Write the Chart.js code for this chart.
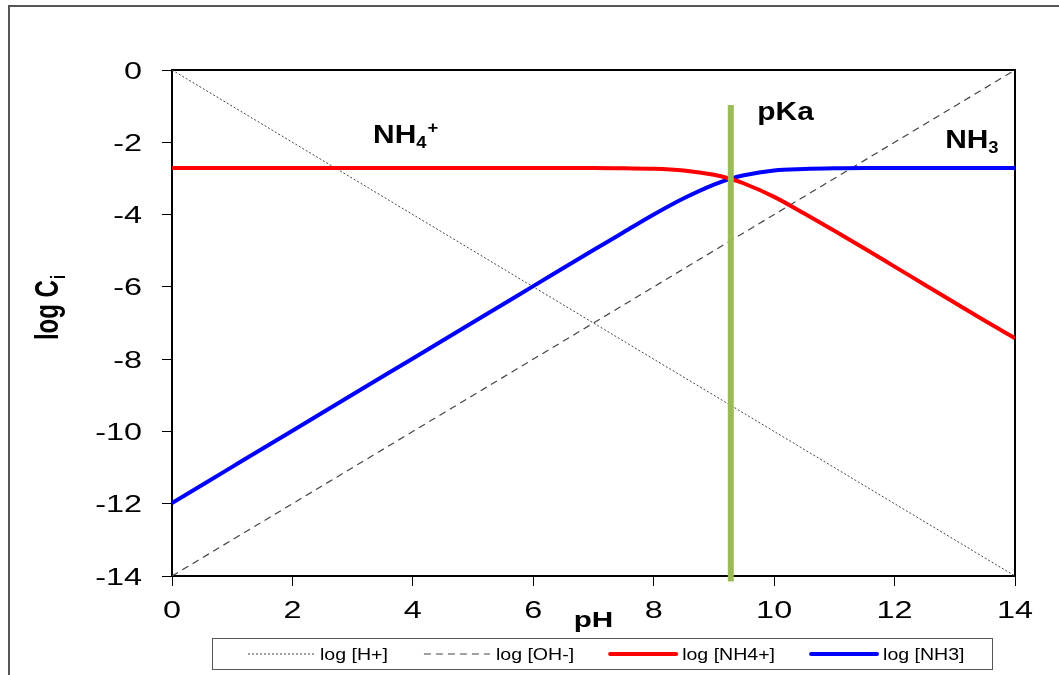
<!DOCTYPE html>
<html>
	<head>
		<title>Ammonia log C - pH diagram</title>
		<script src="https://cdnjs.cloudflare.com/ajax/libs/Chart.js/4.4.1/chart.umd.min.js"></script>
		<style>
			html, body {
				margin: 0;
				padding: 0;
				background: #fff;
			}
			.chart-container {
				width: 1059px;
				height: 675px;
			}
		</style>
	</head>
	<body>
		<div class="chart-container">
			<canvas id="logChart"></canvas>
		</div>
		<script>
			// pH points where the species curves were read
			const phPoints = [0, 1, 2, 3, 4, 5, 6, 7, 7.5, 8, 8.5, 9, 9.27, 9.5, 10, 10.5, 11, 11.5, 12, 12.5, 13, 13.5, 14];
			const logNH4 = [-2.71, -2.71, -2.71, -2.71, -2.71, -2.71, -2.71, -2.71, -2.72, -2.73, -2.78, -2.9, -3.01, -3.14, -3.51, -3.97, -4.45, -4.94, -5.44, -5.94, -6.44, -6.94, -7.42];
			const logNH3 = [-11.98, -10.98, -9.98, -8.98, -7.98, -6.98, -5.98, -4.98, -4.49, -4.0, -3.55, -3.17, -3.01, -2.91, -2.78, -2.74, -2.72, -2.71, -2.71, -2.71, -2.71, -2.71, -2.71];

			// water lines, end points only
			const phEnds = [0, 14];
			const logH = [0, -14];
			const logOH = [-14, 0];

			// pKa marker
			const pKaX = [9.28, 9.28];
			const pKaY = [-0.97, -14.15];

			const labels = ["log [H+]", "log [OH-]", "log [NH4+]", "log [NH3]"];

			const zip = (xs, ys) => xs.map((x, i) => ({ x: x, y: ys[i] }));

			const FONT = "'Liberation Sans', Arial, sans-serif";
			// the original text is drawn a bit wide
			const SX = 1.35;

			const data = {
				datasets: [
					{
						label: "pKa",
						data: zip(pKaX, pKaY),
						borderColor: "#9bbb59",
						borderWidth: 6,
						pointRadius: 0,
						clip: false,
					},
					{
						label: labels[2],
						data: zip(phPoints, logNH4),
						borderColor: "#ff0000",
						borderWidth: 4,
						pointRadius: 0,
						cubicInterpolationMode: "monotone",
					},
					{
						label: labels[3],
						data: zip(phPoints, logNH3),
						borderColor: "#0000ff",
						borderWidth: 4,
						pointRadius: 0,
						cubicInterpolationMode: "monotone",
					},
					{
						label: labels[0],
						data: zip(phEnds, logH),
						borderColor: "#444",
						borderWidth: 1,
						borderDash: [2, 2],
						pointRadius: 0,
					},
					{
						label: labels[1],
						data: zip(phEnds, logOH),
						borderColor: "#444",
						borderWidth: 1.2,
						borderDash: [7, 5],
						pointRadius: 0,
					},
				],
			};

			// text drawn with a horizontal stretch
			function wideText(c, text, x, y, font, sx, align) {
				c.save();
				c.font = font;
				c.textAlign = align || "left";
				c.translate(x, y);
				c.scale(sx, 1);
				c.fillText(text, 0, 0);
				const w = c.measureText(text).width * sx;
				c.restore();
				return w;
			}

			// annotations, frame, tick labels, axis titles and the boxed legend
			const decorations = {
				id: "decorations",
				beforeDraw(chart) {
					const c = chart.ctx;
					c.save();
					c.strokeStyle = "#555";
					c.lineWidth = 2;
					c.strokeRect(9, 6, 1100, 720);
					c.restore();
				},
				afterDraw(chart) {
					const c = chart.ctx;
					const xs = chart.scales.x;
					const ys = chart.scales.y;
					c.save();
					c.fillStyle = "#000";
					c.textBaseline = "alphabetic";

					// tick labels
					const tickFont = "24px " + FONT;
					xs.ticks.forEach((t) => {
						wideText(c, String(t.value), xs.getPixelForValue(t.value), 618, tickFont, SX, "center");
					});
					ys.ticks.forEach((t) => {
						wideText(c, String(t.value), 142, ys.getPixelForValue(t.value) + 8.5, tickFont, SX, "right");
					});

					// species labels with sub/superscripts
					const chem = (parts, px, py) => {
						let x = px;
						parts.forEach((p) => {
							const f = "bold " + (p.s ? 16 : 26) + "px " + FONT;
							const dy = p.s === "sub" ? 5 : p.s === "sup" ? -10 : 0;
							x += wideText(c, p.t, x, py + dy, f, 1.15) + (p.s ? 1 : 0);
						});
					};
					chem([{ t: "NH" }, { t: "4", s: "sub" }, { t: "+", s: "sup" }], xs.getPixelForValue(3.34), ys.getPixelForValue(-2.02));
					chem([{ t: "pKa" }], xs.getPixelForValue(9.72), ys.getPixelForValue(-1.38));
					chem([{ t: "NH" }, { t: "3", s: "sub" }], xs.getPixelForValue(12.84), ys.getPixelForValue(-2.16));

					// x title
					wideText(c, "pH", (xs.left + xs.right) / 2, 627, "bold 22px " + FONT, SX, "center");

					// y title rotated, stretched across its height
					c.save();
					c.translate(58, (ys.top + ys.bottom) / 2 - 15);
					c.rotate(-Math.PI / 2);
					c.scale(1, SX);
					c.textAlign = "left";
					c.font = "bold 24px " + FONT;
					const w1 = c.measureText("log C").width;
					c.font = "bold 15px " + FONT;
					const w2 = c.measureText("i").width;
					const sx0 = -(w1 + w2) / 2;
					c.font = "bold 24px " + FONT;
					c.fillText("log C", sx0, 0);
					c.font = "bold 15px " + FONT;
					c.fillText("i", sx0 + w1 + 1, 5);
					c.restore();

					// boxed legend
					c.strokeStyle = "#555";
					c.lineWidth = 1;
					c.strokeRect(212.5, 638.5, 780, 31);
					const ly = 654;
					let lx = 248;
					const order = [3, 4, 1, 2];
					order.forEach((i) => {
						const ds = chart.data.datasets[i];
						c.save();
						c.strokeStyle = ds.borderColor;
						c.lineWidth = ds.borderWidth;
						c.setLineDash(ds.borderDash || []);
						c.lineCap = ds.borderWidth > 2 ? "round" : "butt";
						c.beginPath();
						c.moveTo(lx, ly);
						c.lineTo(lx + 66, ly);
						c.stroke();
						c.restore();
						c.fillStyle = "#000";
						const w = wideText(c, ds.label, lx + 72, ly + 6, "17px " + FONT, 1.15);
						lx += 72 + w + 36;
					});
					c.restore();
				},
			};

			const axisGrid = {
				display: true,
				drawOnChartArea: false,
				drawTicks: true,
				tickLength: 10,
				color: "#000",
			};

			const config = {
				type: "line",
				data: data,
				plugins: [decorations],
				options: {
					responsive: true,
					maintainAspectRatio: false,
					animation: false,
					events: [],
					layout: {
						padding: { left: 0, top: 70, right: 44, bottom: 0 },
					},
					plugins: {
						legend: { display: false },
						tooltip: { enabled: false },
					},
					scales: {
						x: {
							type: "linear",
							min: 0,
							max: 14,
							afterFit: (s) => {
								s.height = 99;
							},
							ticks: { stepSize: 2, display: false },
							grid: axisGrid,
							border: { color: "#000", width: 2 },
						},
						y: {
							type: "linear",
							min: -14,
							max: 0,
							afterFit: (s) => {
								s.width = 172;
							},
							ticks: { stepSize: 2, display: false },
							grid: axisGrid,
							border: { color: "#000", width: 2 },
						},
						x2: {
							type: "linear",
							position: "top",
							min: 0,
							max: 14,
							afterFit: (s) => {
								s.height = 0;
							},
							ticks: { display: false },
							grid: { display: false },
							border: { color: "#000", width: 2 },
						},
						y2: {
							type: "linear",
							position: "right",
							min: -14,
							max: 0,
							afterFit: (s) => {
								s.width = 0;
							},
							ticks: { display: false },
							grid: { display: false },
							border: { color: "#000", width: 2 },
						},
					},
				},
			};

			new Chart(document.getElementById("logChart"), config);
		</script>
	</body>
</html>
